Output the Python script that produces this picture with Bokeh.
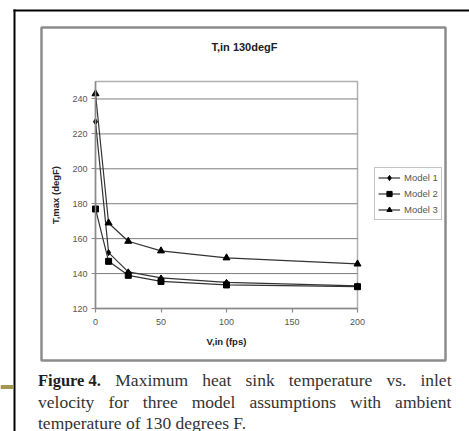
from bokeh.plotting import figure
from bokeh.models import (Range1d, Legend, LegendItem, LinearAxis, FixedTicker, Grid)
from bokeh.core.properties import value
from bokeh.embed import file_html
from bokeh.resources import INLINE

# ---- data ----
velocity = [0, 10, 25, 50, 100, 200]
model1 = [227, 152, 141, 137.5, 135, 133]
model2 = [177, 147, 139, 135.5, 133.5, 132.5]
model3 = [243, 169, 158.5, 153, 149, 145.5]
series_names = ["Model 1", "Model 2", "Model 3"]
y_ticks = [120, 140, 160, 180, 200, 220, 240]
x_ticks = [0, 50, 100, 150, 200]
x_limits = (0, 200)
y_limits = (120, 250)
chart_title = "T,in 130degF"
x_label = "V,in (fps)"
y_label = "T,max (degF)"
caption_bold = "Figure 4."
caption_line1 = ["Maximum", "heat", "sink", "temperature", "vs.", "inlet"]
caption_line2 = ["velocity", "for", "three", "model", "assumptions", "with", "ambient"]
caption_line3 = "temperature of 130 degrees F."

# ---- layout (canvas pixels) ----
W, H = 469, 431
plot_left, plot_right, plot_top, plot_bottom = 95, 357, 81, 308

sx = (plot_right - plot_left) / (x_limits[1] - x_limits[0])
sy = (plot_bottom - plot_top) / (y_limits[1] - y_limits[0])
vx = Range1d(x_limits[0] - plot_left / sx, x_limits[1] + (W - plot_right) / sx)
ty = Range1d(y_limits[0] - (H - plot_bottom) / sy, y_limits[1] + plot_top / sy)

p = figure(width=W, height=H, output_backend="svg", toolbar_location=None,
           x_range=Range1d(0, W), y_range=Range1d(H, 0),
           x_axis_location=None, y_axis_location=None,
           min_border=0, min_border_left=0, min_border_right=0, min_border_top=0, min_border_bottom=0)
p.renderers = [r for r in p.renderers if not isinstance(r, Grid)]
p.center = [r for r in p.center if not isinstance(r, Grid)]
p.extra_x_ranges = {"v": vx}
p.extra_y_ranges = {"t": ty}
p.outline_line_color = None
p.background_fill_color = "white"
p.border_fill_color = "white"

# ---- page decorations ----
p.quad(left=[13], right=[W], top=[9], bottom=[11], fill_color="black", line_color=None)
p.quad(left=[13], right=[15], top=[9], bottom=[H], fill_color="black", line_color=None)
p.quad(left=[0], right=[13], top=[384.5], bottom=[388.5], fill_color="#a39650", line_color=None)
p.quad(left=[41], right=[445], top=[27], bottom=[360], fill_color=None,
       line_color="#8c8c8c", line_width=2.5)

# ---- plot area ----
p.quad(left=[x_limits[0]], right=[x_limits[1]], bottom=[y_limits[0]], top=[y_limits[1]],
       x_range_name="v", y_range_name="t", fill_color=None, line_color="#b0b0b0", line_width=1.5)
p.segment(x0=[x_limits[0]] * len(y_ticks), x1=[x_limits[1]] * len(y_ticks), y0=y_ticks, y1=y_ticks,
          x_range_name="v", y_range_name="t", line_color="#7d7d7d", line_width=1)

xaxis = LinearAxis(x_range_name="v", y_range_name="t", fixed_location=y_limits[0], bounds=x_limits,
                   ticker=FixedTicker(ticks=x_ticks), axis_label=x_label)
yaxis = LinearAxis(x_range_name="v", y_range_name="t", fixed_location=x_limits[0], bounds=y_limits,
                   ticker=FixedTicker(ticks=y_ticks), axis_label=y_label)
for ax in (xaxis, yaxis):
    ax.axis_line_color = "#8a8a8a"
    ax.axis_line_width = 1.5
    ax.major_tick_line_color = "#8a8a8a"
    ax.major_tick_line_width = 1.2
    ax.major_tick_out = 4
    ax.major_tick_in = 0
    ax.minor_tick_line_color = None
    ax.major_label_text_font = "Liberation Sans"
    ax.major_label_text_font_size = "9px"
    ax.major_label_text_color = "#555555"
    ax.axis_label_text_font = "Liberation Sans"
    ax.axis_label_text_font_size = "9.5px"
    ax.axis_label_text_font_style = "bold"
    ax.axis_label_text_color = "#222222"
xaxis.major_label_standoff = 6
xaxis.axis_label_standoff = 8
yaxis.major_label_standoff = 4
yaxis.axis_label_standoff = 8
p.add_layout(xaxis, "below")
p.add_layout(yaxis, "left")

# ---- series ----
series = [model1, model2, model3]
markers = ["diamond", "square", "triangle"]
sizes = [6, 6, 7]
items = []
for name, ys, mk, sz in zip(series_names, series, markers, sizes):
    ln = p.line(velocity, ys, x_range_name="v", y_range_name="t", line_color="#333333", line_width=1.2)
    sc = p.scatter(velocity, ys, x_range_name="v", y_range_name="t", marker=mk, size=sz,
                   fill_color="black", line_color="black")
    items.append(LegendItem(label=name, renderers=[ln, sc]))

legend = Legend(items=items, location=(374, H - 220))
legend.border_line_color = "#8a8a8a"
legend.border_line_width = 1.5
legend.label_text_font = "Liberation Sans"
legend.label_text_font_size = "9.5px"
legend.label_text_color = "#555555"
legend.glyph_width = 22
legend.glyph_height = 13
legend.label_height = 13
legend.spacing = 3
legend.padding = 3
legend.margin = 0
legend.label_standoff = 4
legend.background_fill_color = "white"
p.add_layout(legend, "center")

# ---- title ----
p.text(x=[244], y=[46], text=[chart_title], text_font=value("Liberation Sans"), text_font_size="11px",
       text_font_style="bold", text_align="center", text_baseline="middle", text_color="#222222")

# ---- caption (justified, Times-metric word widths) ----
REG = dict(a=444, b=500, c=444, d=500, e=444, f=333, g=500, h=500, i=278, j=278, k=500, l=278,
           m=778, n=500, o=500, p=500, q=500, r=333, s=389, t=278, u=500, v=500, w=722, x=500,
           y=500, z=444, M=889, F=556)
BOLD = dict(F=611, i=278, g=500, u=556, r=444, e=444)


def tw(s, size, bold=False):
    tab = BOLD if bold else REG
    tot = 0
    for ch in s:
        if ch.isdigit():
            tot += 500
        elif ch == ".":
            tot += 250
        elif ch == " ":
            tot += 250
        else:
            tot += tab.get(ch, 500)
    return tot / 1000 * size


cap_font = value("Liberation Serif")
reg_size, bold_size = 17.5, 16.5
left_edge, right_edge = 37.5, 451


def justify(widths):
    gap = (right_edge - left_edge - sum(widths)) / (len(widths) - 1)
    xs, x = [], left_edge
    for w in widths:
        xs.append(x)
        x += w + gap
    return xs


w1 = [tw(caption_bold, bold_size, True)] + [tw(w, reg_size) for w in caption_line1]
x1 = justify(w1)
w2 = [tw(w, reg_size) for w in caption_line2]
x2 = justify(w2)

base1, base2, base3 = 379.5, 401, 422
p.text(x=[x1[0]], y=[base1], text=[caption_bold], text_font=cap_font, text_font_size=f"{bold_size}px",
       text_font_style="bold", text_baseline="alphabetic", text_color="#1e1e1e")
p.text(x=x1[1:], y=[base1] * len(caption_line1), text=caption_line1, text_font=cap_font,
       text_font_size=f"{reg_size}px", text_baseline="alphabetic", text_color="#333333")
p.text(x=x2, y=[base2] * len(caption_line2), text=caption_line2, text_font=cap_font,
       text_font_size=f"{reg_size}px", text_baseline="alphabetic", text_color="#333333")
p.text(x=[left_edge], y=[base3], text=[caption_line3], text_font=cap_font,
       text_font_size=f"{reg_size}px", text_baseline="alphabetic", text_color="#333333")

open("out.html", "w").write(file_html(p, INLINE))
